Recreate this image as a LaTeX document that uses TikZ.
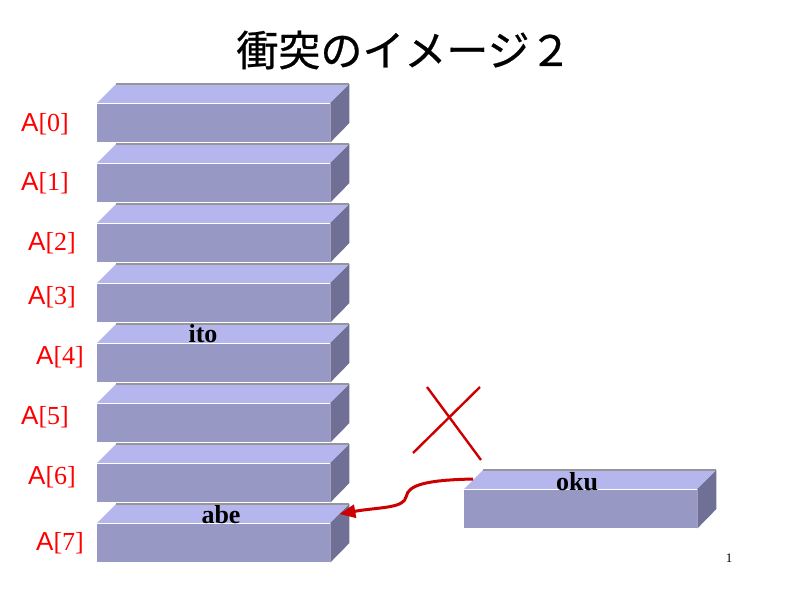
\documentclass[tikz,border=0pt]{standalone}
\usepackage{fontspec}
\usetikzlibrary{arrows.meta, calc}
\setmainfont{Liberation Serif}
\newfontfamily\jpfont[FakeBold=0.6]{Noto Sans CJK JP}
\newfontfamily\arialfont{Liberation Sans}
\definecolor{topc}{RGB}{182,182,238}
\definecolor{frontc}{RGB}{152,152,196}
\definecolor{sidec}{RGB}{112,112,150}
\definecolor{edgec}{RGB}{150,150,150}
\definecolor{redc}{RGB}{204,0,0}
\tikzset{
  front/.style={rectangle, fill=frontc, minimum width=233pt, minimum height=39pt,
    inner sep=0pt, anchor=north west},
  idx/.style={text=red, anchor=west, inner sep=0pt, font=\fontsize{26}{28}\selectfont},
  key/.style={inner sep=0pt, font=\fontsize{26}{28}\selectfont\bfseries},
}
\newcommand{\slab}[1]{%
  \fill[topc] (#1.north west) -- ++(19,-19) -- ++(233,0) -- (#1.north east) -- cycle;
  \draw[edgec, line width=1.2pt] ([shift={(19,-19)}]#1.north west) -- ++(233,0);
  \draw[white, line width=0.8pt] (#1.north west) -- (#1.north east);
  \fill[sidec] (#1.north east) -- ++(19,-19) -- ++(0,39) -- (#1.south east) -- cycle;
}
\begin{document}
\begin{tikzpicture}[x=1pt, y=-1pt]
\useasboundingbox (0,0) rectangle (800,600);
\node[font=\jpfont\fontsize{42}{44}\selectfont] (title) at (404,50) {衝突のイメージ２};
\foreach \i/\lx/\ly in {0/21/124, 1/21/183, 2/28/243, 3/28/297, 4/36/357, 5/21/417, 6/28/477, 7/36/543} {
  \node[front] (b\i) at (97,103+60*\i) {};
  \slab{b\i}
  \node[idx] (l\i) at (\lx,\ly) {{\arialfont A}[\i]};
}
\node[front] (oku) at (464,489) {};
\slab{oku}
\node[key] (ito) at (203,334) {ito};
\node[key] (abe) at (221,515) {abe};
\node[key] (okut) at (577,482) {oku};
\draw[redc, line width=2.4pt] (413,453) -- (480,387);
\draw[redc, line width=2.4pt] (427,387) -- (481,460);
\coordinate (okuA) at ([shift={(9,-10)}]oku.north west);
\coordinate (abeA) at ([shift={(9,-9)}]b7.north east);
\coordinate (bend) at ($(okuA)!0.5!(abeA)$);
\draw[redc, line width=3pt, -{Triangle[length=16pt, width=13pt]}]
  (okuA) .. controls +(-45,1) and +(2,-12) .. (bend)
  .. controls +(-2,12) and +(40,-7) .. (abeA);
\node[font=\fontsize{13}{15}\selectfont] (page) at (729,558) {1};
\end{tikzpicture}
\end{document}
